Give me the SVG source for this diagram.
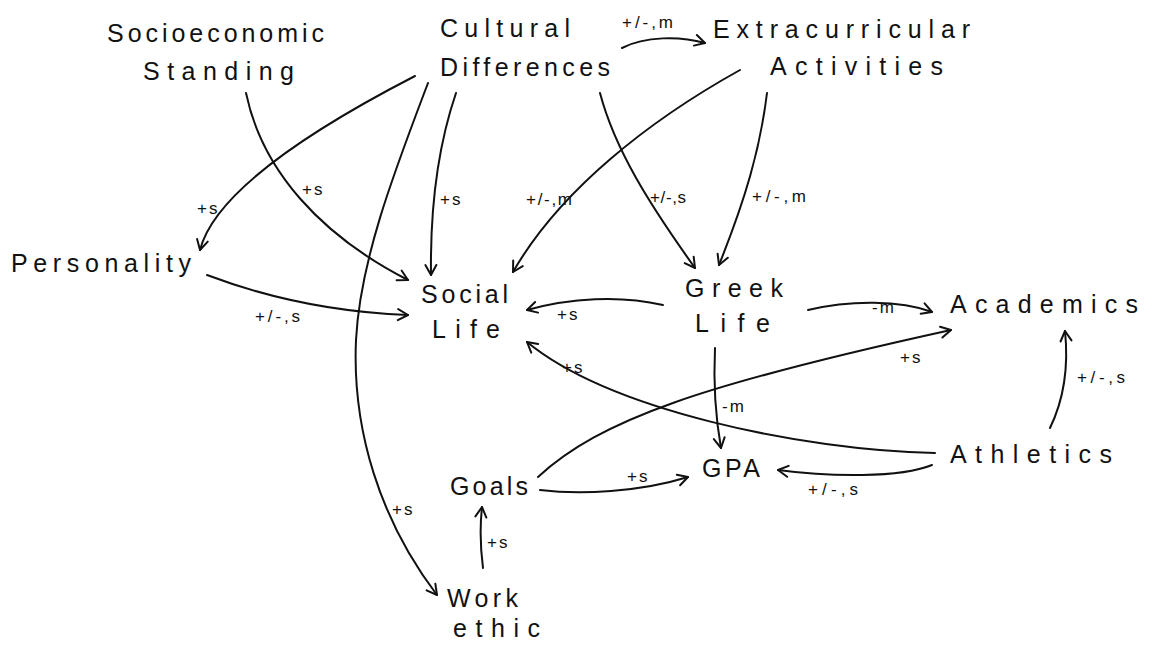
<svg xmlns="http://www.w3.org/2000/svg" width="1152" height="650" viewBox="0 0 1152 650">
<style>
.n{font-family:"Liberation Sans","DejaVu Sans",sans-serif;font-size:25px;fill:#111;}
.l{font-family:"Liberation Sans","DejaVu Sans",sans-serif;font-size:17px;fill:#111;letter-spacing:2px;}
.c path{fill:none;stroke:#111;stroke-width:2;stroke-linecap:round;marker-end:url(#ah);}
</style>
<defs>
<marker id="ah" markerUnits="userSpaceOnUse" markerWidth="14" markerHeight="14" refX="12" refY="7" orient="auto">
<path d="M2,1.5 L12,7 L2,12.5" fill="none" stroke="#111" stroke-width="2" stroke-linecap="round" stroke-linejoin="round"/>
</marker>
</defs>
<rect width="1152" height="650" fill="#fff"/>
<g id="connectors" class="c">
<path d="M246,93 C262,170 320,235 408,280"/>
<path d="M415,76 C320,125 215,190 200,250"/>
<path d="M428,83 C395,170 360,260 356,340 C352,430 380,520 437,595"/>
<path d="M456,93 C440,140 430,200 431,275"/>
<path d="M622,48 C645,36 680,36 705,43"/>
<path d="M600,93 C615,150 650,205 695,268"/>
<path d="M740,70 C650,120 560,190 513,272"/>
<path d="M767,93 C760,150 745,200 719,265"/>
<path d="M207,275 C260,295 330,312 408,315"/>
<path d="M663,305 C620,295 570,298 527,310"/>
<path d="M808,310 C850,300 900,300 932,312"/>
<path d="M715,348 C713,390 716,420 721,448"/>
<path d="M935,453 C800,450 610,410 527,342"/>
<path d="M1050,428 C1066,395 1068,360 1065,331"/>
<path d="M932,465 C900,478 830,477 778,470"/>
<path d="M538,477 C600,420 700,385 951,330"/>
<path d="M540,490 C580,495 640,492 688,477"/>
<path d="M483,568 C480,545 480,525 482,507"/>
</g>
<g id="edge-labels">
<text class="l" x="302" y="195">+s</text>
<text class="l" x="197" y="214">+s</text>
<text class="l" x="440" y="205">+s</text>
<text class="l" x="622" y="28" textLength="53" lengthAdjust="spacing">+/-,m</text>
<text class="l" x="650" y="203" textLength="38" lengthAdjust="spacing">+/-,s</text>
<text class="l" x="526" y="205" textLength="48" lengthAdjust="spacing">+/-,m</text>
<text class="l" x="752" y="202" textLength="56" lengthAdjust="spacing">+/-,m</text>
<text class="l" x="255" y="322" textLength="47" lengthAdjust="spacing">+/-,s</text>
<text class="l" x="557" y="320">+s</text>
<text class="l" x="872" y="313">-m</text>
<text class="l" x="722" y="412">-m</text>
<text class="l" x="562" y="373">+s</text>
<text class="l" x="1077" y="383" textLength="50" lengthAdjust="spacing">+/-,s</text>
<text class="l" x="900" y="363">+s</text>
<text class="l" x="808" y="495" textLength="52" lengthAdjust="spacing">+/-,s</text>
<text class="l" x="627" y="482">+s</text>
<text class="l" x="392" y="515">+s</text>
<text class="l" x="487" y="548">+s</text>
</g>
<g id="socioeconomic"><text class="n" x="107" y="42" textLength="217" lengthAdjust="spacing">Socioeconomic</text><text class="n" x="143" y="80" textLength="151" lengthAdjust="spacing">Standing</text></g>
<g id="cultural"><text class="n" x="440" y="37" textLength="130" lengthAdjust="spacing">Cultural</text><text class="n" x="440" y="76" textLength="170" lengthAdjust="spacing">Differences</text></g>
<g id="extracurricular"><text class="n" x="713" y="38" textLength="257" lengthAdjust="spacing">Extracurricular</text><text class="n" x="770" y="75" textLength="173" lengthAdjust="spacing">Activities</text></g>
<g id="personality"><text class="n" x="11" y="272" textLength="180" lengthAdjust="spacing">Personality</text></g>
<g id="social-life"><text class="n" x="421" y="303" textLength="87" lengthAdjust="spacing">Social</text><text class="n" x="432" y="338" textLength="68" lengthAdjust="spacing">Life</text></g>
<g id="greek-life"><text class="n" x="685" y="297" textLength="98" lengthAdjust="spacing">Greek</text><text class="n" x="695" y="332" textLength="75" lengthAdjust="spacing">Life</text></g>
<g id="academics"><text class="n" x="950" y="313" textLength="188" lengthAdjust="spacing">Academics</text></g>
<g id="athletics"><text class="n" x="950" y="463" textLength="162" lengthAdjust="spacing">Athletics</text></g>
<g id="gpa"><text class="n" x="702" y="477" textLength="58" lengthAdjust="spacing">GPA</text></g>
<g id="goals"><text class="n" x="450" y="495" textLength="78" lengthAdjust="spacing">Goals</text></g>
<g id="work-ethic"><text class="n" x="447" y="607" textLength="71" lengthAdjust="spacing">Work</text><text class="n" x="453" y="637" textLength="87" lengthAdjust="spacing">ethic</text></g>
</svg>
